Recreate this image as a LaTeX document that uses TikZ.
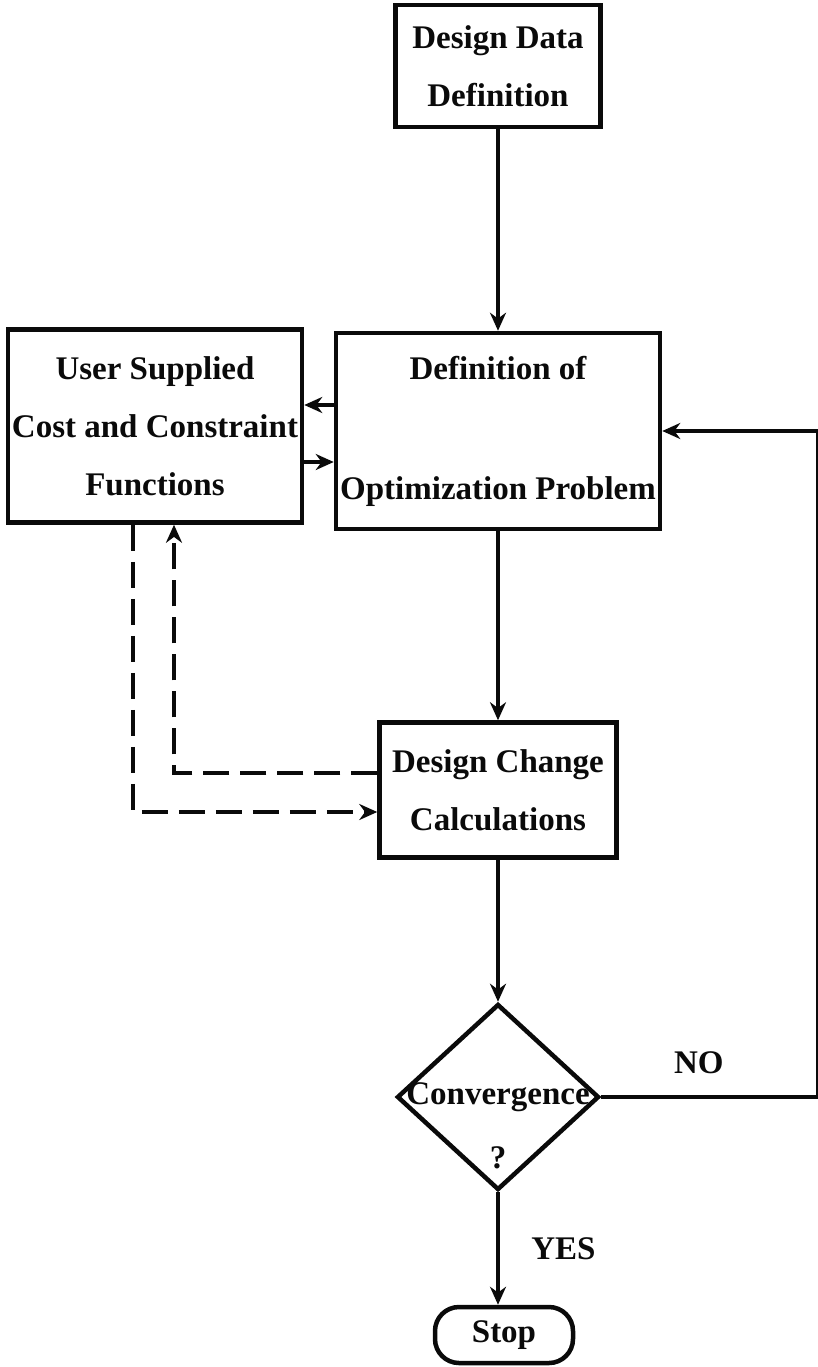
\documentclass[tikz,border=0pt]{standalone}
\usepackage{xcolor}
\usepackage{fontspec}
\setmainfont{Liberation Serif}
\usetikzlibrary{shapes.geometric,arrows.meta}

\begin{document}
\begin{tikzpicture}[x=1pt,y=-1pt]
% Define colours
\definecolor{inkcol}{RGB}{10,10,10}   % Near black

% Styles
\tikzset{
  txt/.style={inkcol,inner sep=3pt,font=\bfseries\fontsize{33}{58}\selectfont},
  box/.style={txt,draw=inkcol,line width=4.5pt,align=center,inner sep=0pt},
  decision/.style={diamond,draw=inkcol,line width=4.5pt,inner sep=0pt,minimum width=202pt,minimum height=186pt},
  terminal/.style={box,rounded corners=24pt,minimum width=138pt,minimum height=56pt},
  flow/.style={draw=inkcol,line width=4.5pt,-{Stealth[length=18pt,width=16pt]}},
  dashflow/.style={flow,dash pattern=on 26pt off 11pt}
}

% Page size of the reference
\useasboundingbox (0,0) rectangle (818,1367);

% Boxes
\node[box,minimum width=205pt,minimum height=122pt] (data) at (498,66) {Design Data\\Definition};
\node[box,minimum width=294pt,minimum height=193pt] (user) at (155,426) {User Supplied\\Cost and Constraint\\Functions};
\node[box,minimum width=324pt,minimum height=196pt] (opt) at (498,431) {Definition of\\[62pt]Optimization Problem};
\node[box,minimum width=237pt,minimum height=135pt] (calc) at (498,790) {Design Change\\Calculations};
\node[decision] (conv) at (498,1097) {};
\node[txt] (convtxt) at (conv.center) {Convergence};
\node[txt] (convq) at ([yshift=-61pt]conv.center) {?};
\node[terminal] (stop) at (504,1335) {Stop};
\coordinate (fb) at (818,1097);

% Main flow
\draw[flow] (data) -- (opt);
\draw[flow] (opt) -- (calc);
\draw[flow] (calc) -- (conv);
\draw[flow] (conv.south) -- (conv.south |- stop.north) node[txt,midway,right=28pt] {YES};
\draw[flow] (conv.east) -- node[txt,pos=0.45,above=18pt] {NO} (fb) |- (opt.east);

% Exchange with user functions
\draw[flow] ([yshift=26pt]opt.west) -- ([yshift=26pt]opt.west -| user.east);
\draw[flow] ([yshift=-31pt]opt.west -| user.east) -- ([yshift=-31pt]opt.west);
\draw[dashflow] ([yshift=17pt]calc.west) -| ([xshift=19pt]user.south);
\draw[dashflow] ([xshift=-22pt]user.south) |- ([yshift=-22pt]calc.west);
\end{tikzpicture}
\end{document}
